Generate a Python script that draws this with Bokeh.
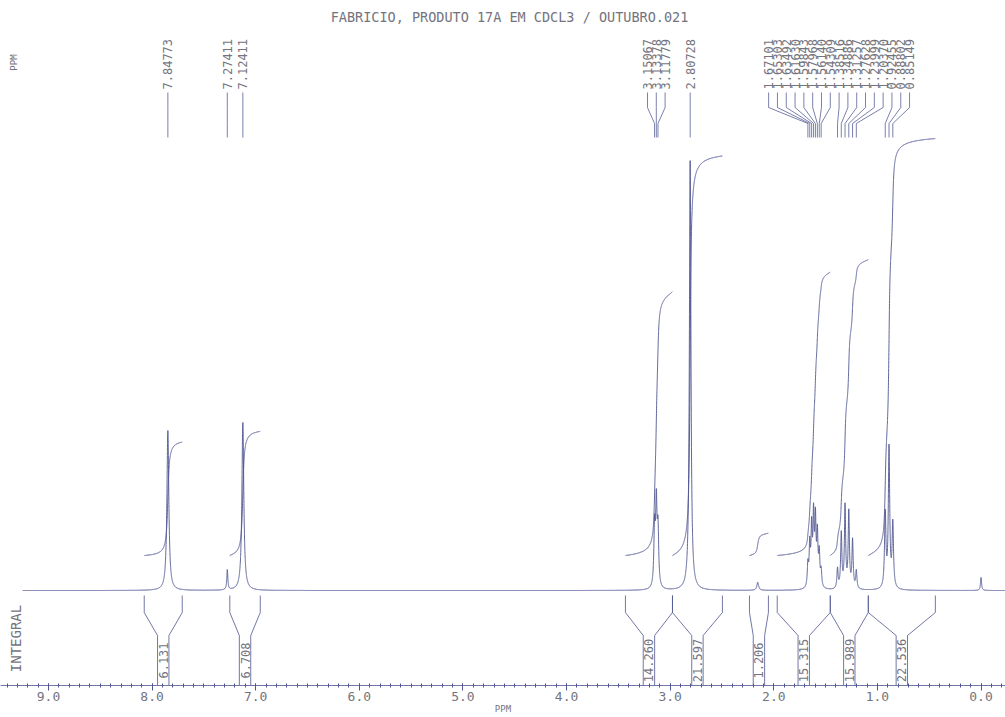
import numpy as np
from bokeh.plotting import figure
from bokeh.models import Range1d, Label, SingleIntervalTicker, PrintfTickFormatter
from bokeh.core.properties import value
from bokeh.embed import file_html
from bokeh.resources import INLINE

TITLE = "FABRICIO, PRODUTO 17A EM CDCL3 / OUTUBRO.021"

# Picked lines: chemical shift (ppm), height above baseline, half width (ppm)
peak_ppm = [7.84773, 7.27411, 7.12411,
            3.15067, 3.13378, 3.11779, 2.80728,
            1.67101, 1.65303, 1.63492, 1.61630, 1.59843, 1.57968, 1.56140, 1.54309,
            1.38516, 1.34886, 1.31257, 1.27628, 1.23999, 1.20370,
            0.92455, 0.88802, 0.85149]
peak_height = [160, 20, 168,
               58, 80, 55, 430,
               22, 40, 56, 68, 64, 50, 32, 16,
               20, 55, 82, 76, 48, 18,
               74, 140, 64]
peak_hwhm = [0.011, 0.006, 0.011,
             0.008, 0.008, 0.008, 0.009,
             0.007, 0.007, 0.007, 0.007, 0.007, 0.007, 0.007, 0.007,
             0.007, 0.007, 0.007, 0.007, 0.007, 0.007,
             0.008, 0.008, 0.008]

# Small lines that were not picked (impurity, TMS)
minor_ppm = [2.155, 0.000]
minor_height = [8, 13]
minor_hwhm = [0.010, 0.006]

# Integral regions (ppm) and their integrals
int_start = [8.076, 7.250, 3.432, 2.978, 2.235, 1.967, 1.455, 1.088]
int_end = [7.709, 6.956, 2.978, 2.496, 2.052, 1.455, 1.088, 0.441]
int_value = [6.131, 6.708, 14.260, 21.597, 1.206, 15.315, 15.989, 22.536]

INT_SCALE = 18.5      # plot units per integral unit
INT_OFFSET = 35       # integral trace starts above the baseline

INK = "#4f5590"
TEXT = "#74747e"
MONO = "DejaVu Sans Mono"

# ---- spectrum from the line list (Lorentzian lines) ----
ppm = np.arange(9.25, -0.236, -0.0005)
spec = np.zeros_like(ppm)
for c, h, g in zip(peak_ppm + minor_ppm, peak_height + minor_height, peak_hwhm + minor_hwhm):
    spec += h / (1.0 + ((ppm - c) / g) ** 2)

p = figure(width=1005, height=717,
           x_range=Range1d(9.463, -0.236), y_range=Range1d(-95, 590),
           output_backend="svg", toolbar_location=None,
           y_axis_location=None, min_border=0, min_border_bottom=32)
p.grid.visible = False
p.outline_line_color = None
p.background_fill_color = "white"
p.border_fill_color = "white"

p.line(ppm, spec, line_color=INK, line_width=1, line_alpha=0.9)

# ---- integral traces ----
for a, b, v in zip(int_start, int_end, int_value):
    m = (ppm <= a) & (ppm >= b)
    cum = np.cumsum(spec[m])
    cum = (cum - cum[0]) / (cum[-1] - cum[0])
    p.line(ppm[m], INT_OFFSET + INT_SCALE * v * cum, line_color=INK, line_width=1, line_alpha=0.9)

# ---- integral brackets under the baseline ----
STEM = 0.055
bx, by = [], []
for a, b in zip(int_start, int_end):
    c = 0.5 * (a + b)
    bx += [[a, a, c + STEM, c + STEM], [b, b, c - STEM, c - STEM]]
    by += [[-5, -22, -45, -95], [-5, -22, -45, -95]]
p.multi_line(bx, by, line_color=INK, line_width=1, line_alpha=0.8)

centres = [0.5 * (a + b) for a, b in zip(int_start, int_end)]
p.text(centres, [-70] * len(centres), text=[f"{v:.3f}" for v in int_value],
       angle=np.pi / 2, text_align="center", text_baseline="middle",
       text_font=value(MONO), text_font_size="12px", text_color=TEXT)

# ---- peak labels, spread so they do not overlap ----
GAP = 0.085
u = -np.array(peak_ppm)
pos = u.copy()
for _ in range(800):
    for i in range(len(pos) - 1):
        d = pos[i + 1] - pos[i]
        if d < GAP:
            s = (GAP - d) / 2
            pos[i] -= s
            pos[i + 1] += s
slot = -pos

lx = [[s, s, c, c] for s, c in zip(slot, peak_ppm)]
ly = [[498, 483, 467, 453] for _ in peak_ppm]
p.multi_line(lx, ly, line_color=INK, line_width=1, line_alpha=0.75)
p.text(list(slot), [501] * len(slot), text=[f"{c:.5f}" for c in peak_ppm],
       angle=np.pi / 2, text_align="left", text_baseline="middle",
       text_font=value(MONO), text_font_size="12px", text_color=TEXT)

# ---- texts ----
p.add_layout(Label(x=4.551, y=574, text=TITLE, text_align="center", text_baseline="middle",
                   text_font=MONO, text_font_size="13.5px", text_color=TEXT))
p.add_layout(Label(x=9.335, y=528, text="PPM", angle=np.pi / 2, text_align="center",
                   text_baseline="middle", text_font=MONO, text_font_size="9px", text_color=TEXT))
p.add_layout(Label(x=9.31, y=-48, text="INTEGRAL", angle=np.pi / 2, text_align="center",
                   text_baseline="middle", text_font=MONO, text_font_size="14px", text_color=TEXT))

# ---- ppm axis ----
ax = p.xaxis[0]
ax.ticker = SingleIntervalTicker(interval=1, num_minor_ticks=10)
ax.formatter = PrintfTickFormatter(format="%.1f")
ax.axis_label = "PPM"
ax.axis_label_text_font = MONO
ax.axis_label_text_font_size = "9px"
ax.axis_label_text_font_style = "normal"
ax.axis_label_text_color = TEXT
ax.axis_label_standoff = 0
ax.major_label_text_font = MONO
ax.major_label_text_font_size = "13px"
ax.major_label_text_color = TEXT
ax.major_label_standoff = 1
ax.axis_line_color = INK
ax.axis_line_alpha = 0.8
ax.major_tick_line_color = INK
ax.minor_tick_line_color = INK
ax.major_tick_in = 2
ax.major_tick_out = 5
ax.minor_tick_in = 2
ax.minor_tick_out = 2

open("out.html", "w").write(file_html(p, INLINE))
